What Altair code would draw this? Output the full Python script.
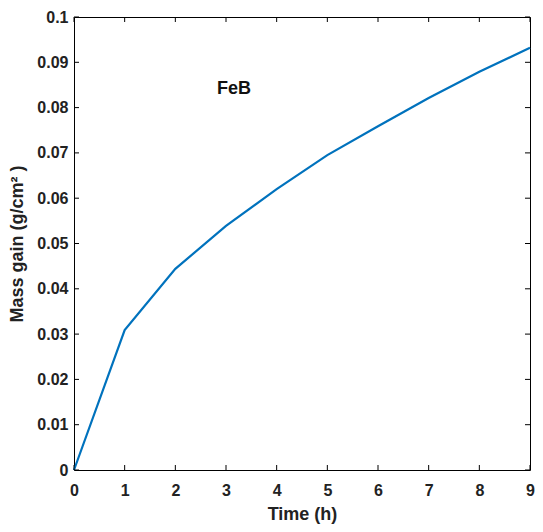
import altair as alt
import pandas as pd

times = [0, 1, 2, 3, 4, 5, 6, 7, 8, 9]
mass_gain = [0, 0.0309, 0.0444, 0.0539, 0.0620, 0.0695, 0.0759, 0.0821, 0.0879, 0.0932]
x_ticks = [0, 1, 2, 3, 4, 5, 6, 7, 8, 9]
y_ticks = [0, 0.01, 0.02, 0.03, 0.04, 0.05, 0.06, 0.07, 0.08, 0.09, 0.1]
label_text = ["FeB"]
label_x = [3.16]
label_y = [0.084]

W, H = 456, 453
FONT = "Liberation Sans"

df = pd.DataFrame({"t": times, "m": mass_gain})
xt = pd.DataFrame({"t": x_ticks})
yt = pd.DataFrame({"m": y_ticks})
lab = pd.DataFrame({"t": label_x, "m": label_y, "txt": label_text})

xscale = alt.Scale(domain=[0, 9], nice=False, zero=False)
yscale = alt.Scale(domain=[0, 0.1], nice=False, zero=False)

xaxis = alt.Axis(values=x_ticks, ticks=False, domain=False, grid=False,
                 labelPadding=12, labelFontSize=16, labelFontWeight="bold",
                 labelFont=FONT, labelColor="#222", title="Time (h)",
                 titleFont=FONT, titleFontSize=18, titleFontWeight="bold",
                 titleColor="#222", titlePadding=7, labelFlush=False)
yaxis = alt.Axis(values=y_ticks, ticks=False, domain=False, grid=False,
                 labelPadding=6, labelFontSize=16, labelFontWeight="bold",
                 labelFont=FONT, labelColor="#222", title="Mass gain  (g/cm² )",
                 titleFont=FONT, titleFontSize=18, titleFontWeight="bold",
                 titleColor="#222", titlePadding=10, format="~g")

X = alt.X("t:Q", scale=xscale, axis=xaxis)
Y = alt.Y("m:Q", scale=yscale, axis=yaxis)

line = alt.Chart(df).mark_line(color="#0072BD", strokeWidth=2.2).encode(x=X, y=Y)

tick_style = dict(color="black", strokeWidth=1)
bottom_ticks = alt.Chart(xt).mark_rule(**tick_style).encode(
    x=X, y=alt.value(H), y2=alt.value(H - 5))
top_ticks = alt.Chart(xt).mark_rule(**tick_style).encode(
    x=X, y=alt.value(0), y2=alt.value(5))
left_ticks = alt.Chart(yt).mark_rule(**tick_style).encode(
    y=Y, x=alt.value(0), x2=alt.value(5))
right_ticks = alt.Chart(yt).mark_rule(**tick_style).encode(
    y=Y, x=alt.value(W), x2=alt.value(W - 5))

text = alt.Chart(lab).mark_text(font=FONT, fontSize=18, fontWeight="bold",
                                color="#111").encode(x=X, y=Y, text="txt:N")

chart = alt.layer(line, bottom_ticks, top_ticks, left_ticks, right_ticks, text).properties(
    width=W, height=H,
    autosize=alt.AutoSizeParams(type="none"),
    padding={"left": 66, "top": 9, "right": 5, "bottom": 54},
).configure_view(stroke="black", strokeWidth=1)

chart.save("out.html", embed_options={"renderer": "svg", "actions": False})
